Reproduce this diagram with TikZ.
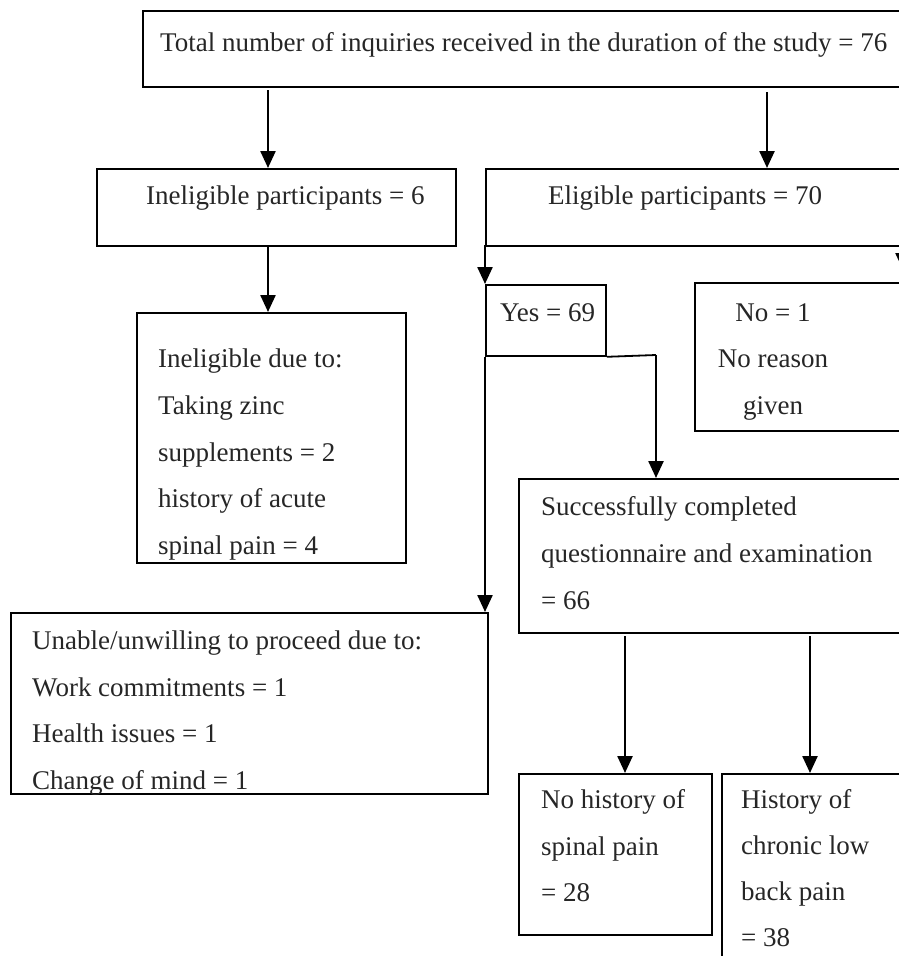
\documentclass[tikz,border=0pt]{standalone}
\usepackage{fontspec}
\setmainfont{Liberation Serif}
\usetikzlibrary{arrows.meta}
\begin{document}
\begin{tikzpicture}[x=1pt,y=-1pt,
 box/.style={draw, line width=1.8pt, rectangle, inner sep=0pt, anchor=north west},
 arr/.style={line width=2.4pt, -{Triangle[width=15pt,length=17pt]}},
 txt/.style={anchor=base west, inner sep=0pt, font=\fontsize{27}{46.7}\selectfont, text=black!85},
 ctxt/.style={txt, anchor=base},
]
\useasboundingbox (0,0) rectangle (898,956);
% boxes
\node[box, minimum width=800pt, minimum height=76pt] (top) at (142,10) {};
\node[box, minimum width=359pt, minimum height=77pt] (inel) at (96,168) {};
\node[box, minimum width=500pt, minimum height=77pt] (elig) at (485,168) {};
\node[box, minimum width=269pt, minimum height=250pt] (due) at (136,312) {};
\node[box, minimum width=120pt, minimum height=71pt] (yes) at (485,284) {};
\node[box, minimum width=300pt, minimum height=148pt] (no) at (694,282) {};
\node[box, minimum width=477pt, minimum height=181pt] (unable) at (10,612) {};
\node[box, minimum width=500pt, minimum height=154pt] (succ) at (518,478) {};
\node[box, minimum width=193pt, minimum height=161pt] (nohist) at (518,773) {};
\node[box, minimum width=300pt, minimum height=300pt] (hist) at (721,773) {};
% texts
\node[txt] (ttop) at (160,51) {Total number of inquiries received in the duration of the study = 76};
\node[txt] (tinel) at (146,204) {Ineligible participants = 6};
\node[txt] (telig) at (548,204) {Eligible participants = 70};
\node[txt] (td1) at (158,367) {Ineligible due to:};
\node[txt] (td2) at (158,414) {Taking zinc};
\node[txt] (td3) at (158,461) {supplements = 2};
\node[txt] (td4) at (158,507) {history of acute};
\node[txt] (td5) at (158,554) {spinal pain = 4};
\node[txt] (tyes) at (500,321) {Yes = 69};
\node[ctxt] (tno1) at (773,321) {No = 1};
\node[ctxt] (tno2) at (773,367) {No reason};
\node[ctxt] (tno3) at (773,414) {given};
\node[txt] (tu1) at (32,649) {Unable/unwilling to proceed due to:};
\node[txt] (tu2) at (32,696) {Work commitments = 1};
\node[txt] (tu3) at (32,742) {Health issues = 1};
\node[txt] (tu4) at (32,789) {Change of mind = 1};
\node[txt] (ts1) at (541,515) {Successfully completed};
\node[txt] (ts2) at (541,562) {questionnaire and examination};
\node[txt] (ts3) at (541,609) {= 66};
\node[txt] (tn1) at (541,808) {No history of};
\node[txt] (tn2) at (541,855) {spinal pain};
\node[txt] (tn3) at (541,901) {= 28};
\node[txt] (th1) at (741,808) {History of};
\node[txt] (th2) at (741,854) {chronic low};
\node[txt] (th3) at (741,900) {back pain};
\node[txt] (th4) at (741,946) {= 38};
% connectors
\coordinate (a1) at (268,90);
\coordinate (a2) at (767,92);
\coordinate (a3) at (268,245);
\coordinate (a4) at (485,245);
\coordinate (a6) at (656,355);
\coordinate (a7) at (625,636);
\coordinate (a8) at (810,636);
\coordinate (a9) at (903,245);
\coordinate (a9end) at (903,270);
\draw[arr] (a1) -- (a1 |- inel.north);
\draw[arr] (a2) -- (a2 |- elig.north);
\draw[arr] (a3) -- (a3 |- due.north);
\draw[arr] (a4) -- (a4 |- yes.north);
\draw[arr] (yes.south west) -- (yes.south west |- unable.north);
\draw[line width=1.8pt] (yes.south east) -- (a6);
\draw[arr] (a6) -- (a6 |- succ.north);
\draw[arr] (a7) -- (a7 |- nohist.north);
\draw[arr] (a8) -- (a8 |- hist.north);
\draw[arr] (a9) -- (a9end);
\end{tikzpicture}
\end{document}
